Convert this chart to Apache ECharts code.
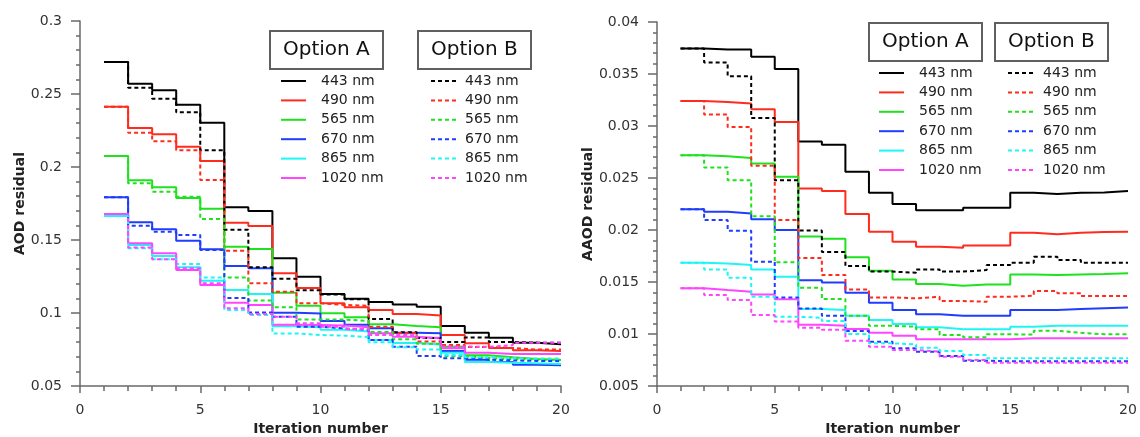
<!DOCTYPE html>
<html>
<head>
<meta charset="utf-8">
<script src="https://cdn.jsdelivr.net/npm/echarts@6/dist/echarts.min.js"></script>
<style>
  html, body { margin: 0; padding: 0; background: #ffffff; }
  #chart { width: 1140px; height: 437px; }
</style>
</head>
<body>
<div id="chart"></div>
<script>
// Iterations of the retrieval and the wavelengths shown
const iterations = [1, 2, 3, 4, 5, 6, 7, 8, 9, 10, 11, 12, 13, 14, 15, 16, 17, 18, 19, 20];
const wavelengths = ['443 nm', '490 nm', '565 nm', '670 nm', '865 nm', '1020 nm'];
const colors = ['#000000', '#ff2b1c', '#1fe21f', '#1f3dff', '#1ff5f5', '#ff45ff'];

// AOD residual, option A
const aodA443  = [0.2719, 0.2571, 0.2525, 0.2427, 0.2303, 0.1724, 0.1699, 0.1375, 0.1249, 0.1130, 0.1098, 0.1075, 0.1059, 0.1043, 0.0911, 0.0865, 0.0831, 0.0797, 0.0786, 0.0786];
const aodA490  = [0.2413, 0.2267, 0.2224, 0.2139, 0.2041, 0.1618, 0.1596, 0.1272, 0.1171, 0.1066, 0.1039, 0.1021, 0.0993, 0.0983, 0.0849, 0.0792, 0.0760, 0.0745, 0.0740, 0.0740];
const aodA565  = [0.2075, 0.1909, 0.1861, 0.1788, 0.1714, 0.1454, 0.1438, 0.1139, 0.1050, 0.0998, 0.0971, 0.0923, 0.0911, 0.0902, 0.0769, 0.0710, 0.0697, 0.0685, 0.0678, 0.0678];
const aodA670  = [0.1792, 0.1621, 0.1573, 0.1495, 0.1436, 0.1322, 0.1306, 0.1002, 0.0997, 0.0945, 0.0920, 0.0895, 0.0865, 0.0861, 0.0740, 0.0680, 0.0665, 0.0645, 0.0642, 0.0642];
const aodA865  = [0.1664, 0.1466, 0.1390, 0.1313, 0.1221, 0.1158, 0.1130, 0.0910, 0.0902, 0.0885, 0.0873, 0.0815, 0.0795, 0.0785, 0.0728, 0.0665, 0.0660, 0.0655, 0.0650, 0.0650];
const aodA1020 = [0.1678, 0.1477, 0.1409, 0.1295, 0.1192, 0.1071, 0.1055, 0.0920, 0.0918, 0.0915, 0.0902, 0.0861, 0.0838, 0.0827, 0.0758, 0.0728, 0.0720, 0.0719, 0.0719, 0.0719];

// AOD residual, option B
const aodB443  = [0.2719, 0.2543, 0.2468, 0.2375, 0.2114, 0.1571, 0.1313, 0.1235, 0.1155, 0.1127, 0.1094, 0.0959, 0.0868, 0.0829, 0.0802, 0.0833, 0.0801, 0.0797, 0.0797, 0.0797];
const aodB490  = [0.2413, 0.2235, 0.2176, 0.2114, 0.1911, 0.1427, 0.1203, 0.1145, 0.1066, 0.1055, 0.1050, 0.0906, 0.0862, 0.0805, 0.0781, 0.0767, 0.0760, 0.0750, 0.0750, 0.0750];
const aodB565  = [0.2075, 0.1888, 0.1831, 0.1797, 0.1643, 0.1244, 0.1086, 0.1039, 0.0955, 0.0955, 0.0945, 0.0870, 0.0820, 0.0790, 0.0705, 0.0692, 0.0685, 0.0680, 0.0680, 0.0680];
const aodB670  = [0.1792, 0.1598, 0.1557, 0.1534, 0.1432, 0.1103, 0.1004, 0.0975, 0.0906, 0.0895, 0.0884, 0.0815, 0.0769, 0.0706, 0.0690, 0.0680, 0.0675, 0.0672, 0.0670, 0.0670];
const aodB865  = [0.1664, 0.1443, 0.1368, 0.1336, 0.1244, 0.1021, 0.0986, 0.0860, 0.0849, 0.0845, 0.0835, 0.0800, 0.0765, 0.0750, 0.0712, 0.0697, 0.0690, 0.0688, 0.0688, 0.0688];
const aodB1020 = [0.1678, 0.1448, 0.1368, 0.1306, 0.1203, 0.1032, 0.0993, 0.0975, 0.0930, 0.0905, 0.0890, 0.0850, 0.0848, 0.0830, 0.0770, 0.0769, 0.0780, 0.0797, 0.0797, 0.0797];

// AAOD residual, option A
const aaodA443  = [0.03744, 0.03735, 0.03735, 0.03667, 0.03548, 0.02851, 0.02820, 0.02559, 0.02357, 0.02249, 0.02191, 0.02191, 0.02213, 0.02213, 0.02357, 0.02345, 0.02357, 0.02360, 0.02376, 0.02376];
const aaodA490  = [0.03241, 0.03231, 0.03216, 0.03161, 0.03039, 0.02400, 0.02376, 0.02153, 0.01982, 0.01886, 0.01838, 0.01829, 0.01851, 0.01851, 0.01973, 0.01960, 0.01973, 0.01980, 0.01982, 0.01982];
const aaodA565  = [0.02719, 0.02710, 0.02693, 0.02640, 0.02511, 0.01938, 0.01915, 0.01737, 0.01608, 0.01525, 0.01480, 0.01464, 0.01477, 0.01477, 0.01573, 0.01567, 0.01573, 0.01576, 0.01583, 0.01583];
const aaodA670  = [0.02200, 0.02175, 0.02159, 0.02104, 0.01999, 0.01518, 0.01496, 0.01397, 0.01300, 0.01230, 0.01189, 0.01176, 0.01176, 0.01176, 0.01230, 0.01230, 0.01240, 0.01248, 0.01256, 0.01256];
const aaodA865  = [0.01685, 0.01679, 0.01663, 0.01621, 0.01550, 0.01240, 0.01230, 0.01176, 0.01134, 0.01096, 0.01064, 0.01045, 0.01045, 0.01045, 0.01070, 0.01079, 0.01079, 0.01079, 0.01079, 0.01079];
const aaodA1020 = [0.01439, 0.01422, 0.01406, 0.01381, 0.01333, 0.01090, 0.01080, 0.01048, 0.01012, 0.00983, 0.00949, 0.00949, 0.00949, 0.00949, 0.00958, 0.00958, 0.00958, 0.00958, 0.00958, 0.00958];

// AAOD residual, option B
const aaodB443  = [0.03744, 0.03610, 0.03478, 0.03078, 0.02479, 0.01995, 0.01788, 0.01653, 0.01600, 0.01589, 0.01621, 0.01600, 0.01615, 0.01663, 0.01685, 0.01742, 0.01711, 0.01685, 0.01685, 0.01685];
const aaodB490  = [0.03241, 0.03110, 0.02991, 0.02617, 0.02095, 0.01730, 0.01567, 0.01429, 0.01352, 0.01343, 0.01358, 0.01317, 0.01310, 0.01358, 0.01368, 0.01413, 0.01391, 0.01365, 0.01365, 0.01365];
const aaodB565  = [0.02719, 0.02601, 0.02479, 0.02133, 0.01689, 0.01445, 0.01336, 0.01176, 0.01079, 0.01070, 0.01045, 0.00990, 0.00968, 0.00997, 0.00995, 0.01031, 0.01012, 0.00997, 0.00997, 0.00997];
const aaodB670  = [0.02200, 0.02095, 0.01992, 0.01694, 0.01352, 0.01246, 0.01176, 0.01029, 0.00926, 0.00862, 0.00830, 0.00788, 0.00743, 0.00738, 0.00738, 0.00738, 0.00738, 0.00738, 0.00738, 0.00738];
const aaodB865  = [0.01685, 0.01621, 0.01541, 0.01358, 0.01166, 0.01156, 0.01125, 0.01000, 0.00911, 0.00900, 0.00868, 0.00836, 0.00798, 0.00766, 0.00766, 0.00766, 0.00766, 0.00766, 0.00766, 0.00766];
const aaodB1020 = [0.01439, 0.01374, 0.01326, 0.01182, 0.01120, 0.01060, 0.01040, 0.00935, 0.00878, 0.00846, 0.00830, 0.00782, 0.00750, 0.00724, 0.00724, 0.00724, 0.00724, 0.00724, 0.00724, 0.00724];

// Y-axis tick ranges
const aodTicks  = { min: 0.05,  max: 0.3,  step: 0.05 };
const aaodTicks = { min: 0.005, max: 0.04, step: 0.005 };

const FONT = 'DejaVu Sans';
const AXIS_GREY = '#6a6a6a';

const panels = [
  { key: 'AOD',  A: [aodA443, aodA490, aodA565, aodA670, aodA865, aodA1020],
                 B: [aodB443, aodB490, aodB565, aodB670, aodB865, aodB1020] },
  { key: 'AAOD', A: [aaodA443, aaodA490, aaodA565, aaodA670, aaodA865, aaodA1020],
                 B: [aaodB443, aaodB490, aaodB565, aaodB670, aaodB865, aaodB1020] }
];

function seriesName(panel, opt, w) { return panel + ' ' + opt + ' ' + w; }

const series = [];
panels.forEach((p, pi) => {
  ['A', 'B'].forEach(opt => {
    p[opt].forEach((vals, k) => {
      series.push({
        name: seriesName(p.key, opt, wavelengths[k]),
        type: 'line',
        step: 'end',
        xAxisIndex: pi,
        yAxisIndex: pi,
        symbol: 'none',
        silent: true,
        color: colors[k],
        lineStyle: { width: 2, color: colors[k], type: opt === 'A' ? 'solid' : [4, 3] },
        data: iterations.map((x, i) => [x, vals[i]])
      });
    });
  });
});

function xAxisFor(gridIndex) {
  return {
    gridIndex, type: 'value', min: 0, max: 20, interval: 5,
    name: 'Iteration number', nameLocation: 'middle', nameGap: 36,
    nameTextStyle: { fontFamily: FONT, fontWeight: 'bold', fontSize: 14, color: '#222' },
    axisLine: { lineStyle: { color: AXIS_GREY, width: 1.5 } },
    axisTick: { length: 7, lineStyle: { color: AXIS_GREY, width: 1.5 } },
    minorTick: { show: true, splitNumber: 5, length: 5, lineStyle: { color: AXIS_GREY, width: 1.5 } },
    axisLabel: { fontFamily: FONT, fontSize: 14, color: '#333', margin: 17 },
    splitLine: { show: false }
  };
}

function yAxisFor(gridIndex, ticks, name, gap) {
  return {
    gridIndex, type: 'value', min: ticks.min, max: ticks.max, interval: ticks.step,
    name, nameLocation: 'middle', nameGap: gap,
    nameTextStyle: { fontFamily: FONT, fontWeight: 'bold', fontSize: 14, color: '#222' },
    axisLine: { show: true, lineStyle: { color: AXIS_GREY, width: 1.5 } },
    axisTick: { show: true, length: 9, lineStyle: { color: AXIS_GREY, width: 1.5 } },
    minorTick: { show: true, splitNumber: 5, length: 4, lineStyle: { color: AXIS_GREY, width: 1.5 } },
    axisLabel: { fontFamily: FONT, fontSize: 14, color: '#333', margin: 18 },
    splitLine: { show: false }
  };
}

function optionBox(text, left, top) {
  return {
    text, left, top,
    padding: [7, 13],
    borderColor: '#606060', borderWidth: 2,
    textStyle: { fontFamily: FONT, fontSize: 20, fontWeight: 'normal', color: '#111', lineHeight: 24 }
  };
}

// Legend keys show only the line sample, no marker
function legendFor(panel, opt, left, top, textGap) {
  return {
    orient: 'vertical', left, top, padding: 0,
    itemWidth: 25, itemHeight: 14, itemGap: 5.4,
    selectedMode: false,
    itemStyle: { opacity: 0, borderWidth: 0 },
    data: wavelengths.map(w => seriesName(panel, opt, w)),
    formatter: name => name.split(' ').slice(2).join(' '),
    textStyle: { fontFamily: FONT, fontSize: 14, color: '#222', padding: [0, 0, 0, textGap] }
  };
}

const chart = echarts.init(document.getElementById('chart'), null, { renderer: 'canvas' });
chart.setOption({
  animation: false,
  backgroundColor: '#ffffff',
  title: [
    optionBox('Option A', 270, 31),
    optionBox('Option B', 418, 31),
    optionBox('Option A', 869, 23),
    optionBox('Option B', 995, 23)
  ],
  legend: [
    legendFor('AOD', 'A', 280, 74, 10),
    legendFor('AOD', 'B', 430, 74, 4),
    legendFor('AAOD', 'A', 878, 66, 10),
    legendFor('AAOD', 'B', 1007, 66, 5)
  ],
  grid: [
    { left: 80, right: 579, top: 21, bottom: 51, outerBoundsMode: 'none' },
    { left: 657, right: 12, top: 22, bottom: 51, outerBoundsMode: 'none' }
  ],
  xAxis: [xAxisFor(0), xAxisFor(1)],
  yAxis: [
    yAxisFor(0, aodTicks, 'AOD residual', 53),
    yAxisFor(1, aaodTicks, 'AAOD residual', 61)
  ],
  series
});
</script>
</body>
</html>
